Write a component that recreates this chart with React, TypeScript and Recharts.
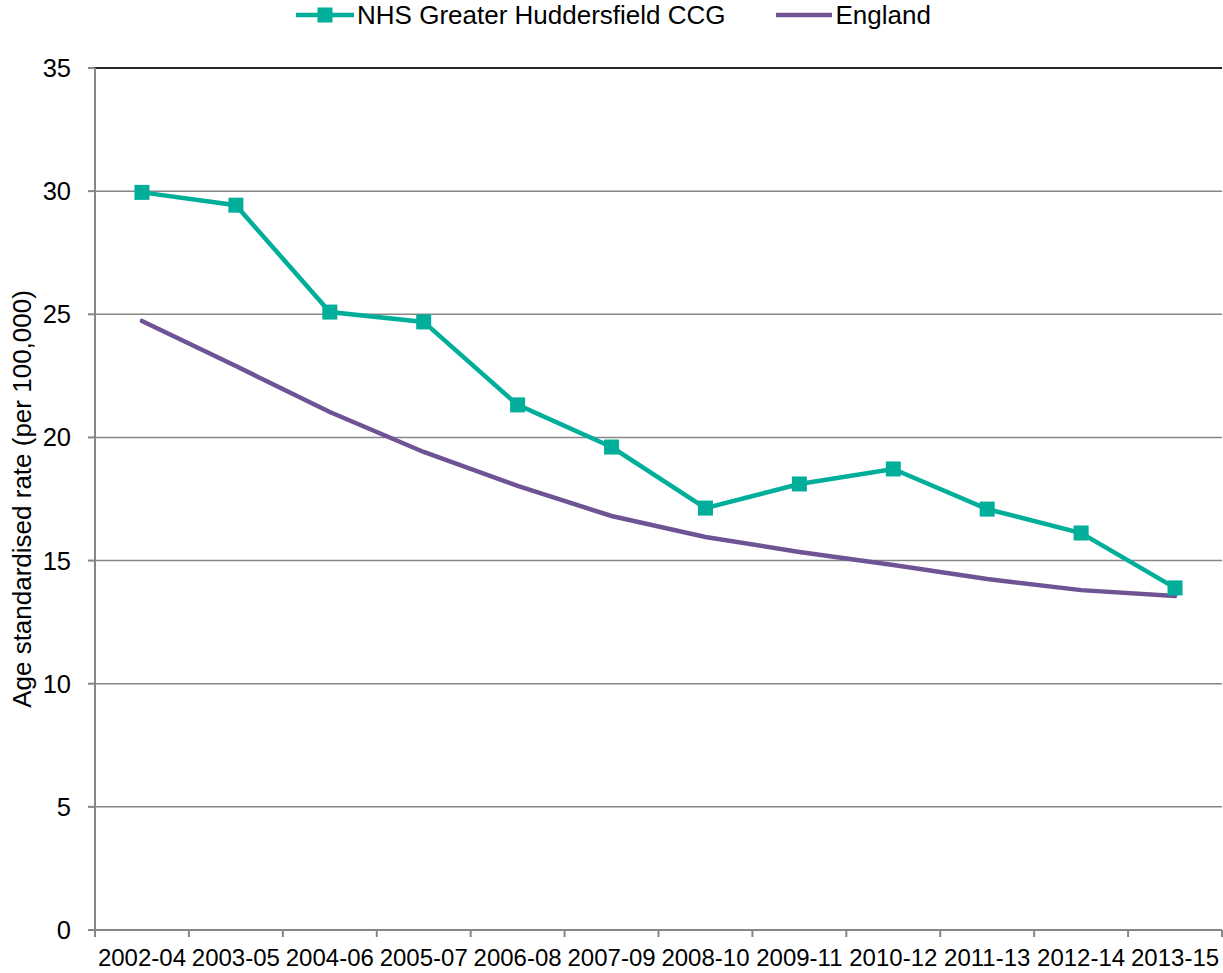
import { CartesianGrid, Line, LineChart, ReferenceLine, XAxis, YAxis } from 'recharts'

const periods = [
  '2002-04', '2003-05', '2004-06', '2005-07', '2006-08', '2007-09',
  '2008-10', '2009-11', '2010-12', '2011-13', '2012-14', '2013-15',
]
const huddersfield = [29.95, 29.43, 25.09, 24.69, 21.32, 19.61, 17.13, 18.11, 18.72, 17.09, 16.12, 13.89]
const england = [24.73, 22.9, 21.03, 19.41, 18.03, 16.81, 15.96, 15.35, 14.82, 14.25, 13.8, 13.56]
const yTicks = [0, 5, 10, 15, 20, 25, 30, 35]

const TEAL = '#00ae9a'
const PURPLE = '#6e5494'
const GRID = '#868686'
const FONT = '"Liberation Sans", Arial, sans-serif'

// x sits at the middle of each category band; integer positions are the band edges
const data = periods.map((p, i) => ({
  x: i + 0.5,
  period: p,
  nhs: huddersfield[i],
  england: england[i],
}))
const xTicks = Array.from({ length: periods.length * 2 + 1 }, (_, i) => i / 2)

function XTick({ x, y, payload }: any) {
  const v = payload.value as number
  if (Number.isInteger(v)) {
    return <line x1={x} x2={x} y1={y - 8} y2={y - 1} stroke={GRID} strokeWidth={2} />
  }
  return (
    <text x={x} y={y + 28} textAnchor="middle" fontSize={24} fill="#000" fontFamily={FONT}>
      {periods[Math.floor(v)]}
    </text>
  )
}

function LegendBox() {
  return (
    <div
      style={{
        position: 'absolute', top: 0, left: 0, width: 1223, height: 30,
        display: 'flex', justifyContent: 'center', alignItems: 'center',
        fontFamily: FONT, fontSize: 26, color: '#000', paddingLeft: 2,
      }}
    >
      <svg width={58} height={20}>
        <line x1={0} x2={58} y1={10} y2={10} stroke={TEAL} strokeWidth={4.5} />
        <rect x={21.5} y={2.5} width={15} height={15} fill={TEAL} />
      </svg>
      <span style={{ marginLeft: 3, marginRight: 50 }}>NHS Greater Huddersfield CCG</span>
      <svg width={56} height={20}>
        <line x1={0} x2={56} y1={10} y2={10} stroke={PURPLE} strokeWidth={4.5} strokeLinecap="round" />
      </svg>
      <span style={{ marginLeft: 4 }}>England</span>
    </div>
  )
}

export default function App() {
  return (
    <div style={{ position: 'absolute', left: 0, top: 0, width: 1223, height: 973, background: '#fff' }}>
      <LineChart width={1223} height={973} data={data} margin={{ top: 68, right: 1, bottom: 0, left: 0 }}>
        <CartesianGrid vertical={false} stroke={GRID} strokeWidth={1.5} />
        <XAxis
          dataKey="x"
          type="number"
          domain={[0, periods.length]}
          ticks={xTicks}
          interval={0}
          tickLine={false}
          tick={<XTick />}
          stroke={GRID}
          strokeWidth={2}
          height={43}
        />
        <YAxis
          domain={[0, 35]}
          ticks={yTicks}
          interval={0}
          width={95}
          stroke={GRID}
          strokeWidth={2}
          tickSize={7}
          tickMargin={17}
          tick={{ fontSize: 25.5, fill: '#000', fontFamily: FONT }}
          label={{
            value: 'Age standardised rate (per 100,000)',
            angle: -90,
            position: 'insideLeft',
            dx: 17,
            style: { textAnchor: 'middle', fontSize: 26, fill: '#000', fontFamily: FONT },
          }}
        />
        <ReferenceLine y={35} stroke="#000" strokeWidth={1.5} />
        <Line
          dataKey="england"
          stroke={PURPLE}
          strokeWidth={4.5}
          strokeLinecap="round"
          dot={false}
          isAnimationActive={false}
        />
        <Line
          dataKey="nhs"
          stroke={TEAL}
          strokeWidth={4.5}
          dot={(p: any) => (
            <rect key={p.index} x={p.cx - 7.5} y={p.cy - 7.5} width={15} height={15} fill={TEAL} />
          )}
          isAnimationActive={false}
        />
      </LineChart>
      <LegendBox />
    </div>
  )
}
